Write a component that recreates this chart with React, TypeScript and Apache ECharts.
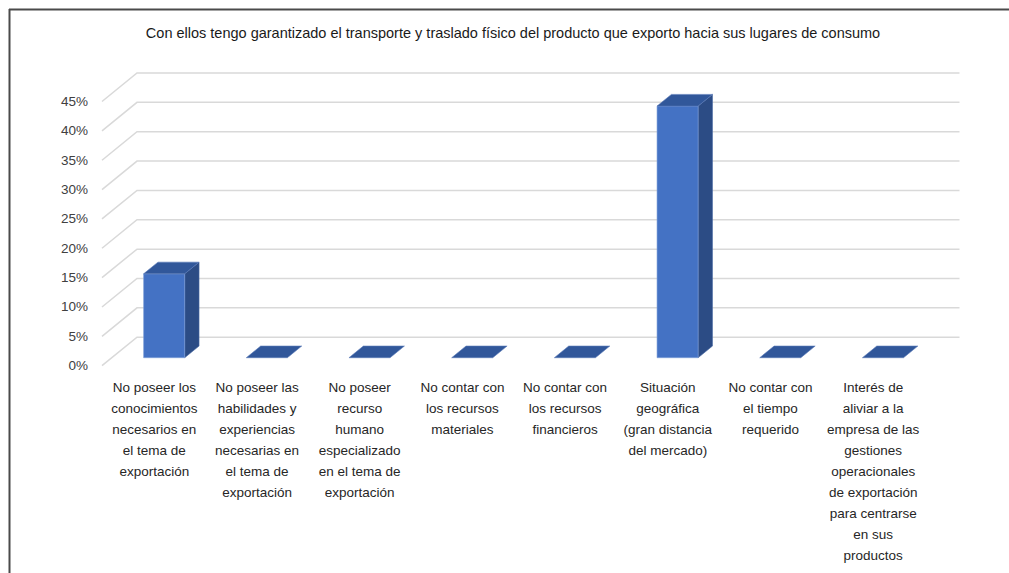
import React, { useEffect, useRef } from "react";
import * as echarts from "echarts";

const titleText =
  "Con ellos tengo garantizado el transporte y traslado físico del producto que exporto hacia sus lugares de consumo";

const categories = [
  "No poseer los\nconocimientos\nnecesarios en\nel tema de\nexportación",
  "No poseer las\nhabilidades y\nexperiencias\nnecesarias en\nel tema de\nexportación",
  "No poseer\nrecurso\nhumano\nespecializado\nen el tema de\nexportación",
  "No contar con\nlos recursos\nmateriales",
  "No contar con\nlos recursos\nfinancieros",
  "Situación\ngeográfica\n(gran distancia\ndel mercado)",
  "No contar con\nel tiempo\nrequerido",
  "Interés de\naliviar a la\nempresa de las\ngestiones\noperacionales\nde exportación\npara centrarse\nen sus\nproductos",
];

const values = [14.29, 0, 0, 0, 0, 42.86, 0, 0];

const yTicks = [0, 5, 10, 15, 20, 25, 30, 35, 40, 45];

// depth vector (floor front -> back wall), in pixels
const DEPTH_X = 35;
const DEPTH_Y = -28.5;
const BAR_FRONT = 0.28;
const BAR_BACK = 0.69;

const FONT = "'Liberation Sans', Arial, sans-serif";

export default function App() {
  const ref = useRef<HTMLDivElement>(null);

  useEffect(() => {
    if (!ref.current) return;
    const chart = echarts.init(ref.current, undefined, { renderer: "svg" });

    const option: any = {
      animation: false,
      backgroundColor: "#ffffff",
      grid: {
        left: 103,
        right: 84.5,
        top: 101.5,
        bottom: 573 - 365.7,
        containLabel: false,
      },
      xAxis: {
        type: "category",
        data: categories,
        axisLine: { show: false },
        axisTick: { show: false },
        splitLine: { show: false },
        axisLabel: {
          interval: 0,
          margin: 11,
          color: "#262626",
          fontSize: 13.5,
          lineHeight: 21,
          fontFamily: FONT,
        },
      },
      yAxis: {
        type: "value",
        min: 0,
        max: 45,
        interval: 5,
        axisLine: { show: false },
        axisTick: { show: false },
        splitLine: { show: false },
        axisLabel: {
          formatter: "{value}%",
          margin: 15,
          color: "#404040",
          fontSize: 13.5,
          fontFamily: FONT,
        },
      },
      graphic: [
        {
          type: "text",
          x: 513,
          y: 33,
          style: {
            text: titleText,
            fill: "#1a1a1a",
            fontSize: 14.5,
            fontFamily: FONT,
            align: "center",
            verticalAlign: "middle",
          },
        },
        {
          type: "line",
          shape: { x1: 9, y1: 9.5, x2: 1009, y2: 9.5 },
          style: { stroke: "#4a4a4a", lineWidth: 2 },
        },
        {
          type: "line",
          shape: { x1: 9.5, y1: 9, x2: 9.5, y2: 573 },
          style: { stroke: "#4a4a4a", lineWidth: 2 },
        },
      ],
      series: [
        {
          type: "custom",
          z: 1,
          silent: true,
          data: yTicks.map((t) => [0, t]),
          encode: { x: 0, y: 1 },
          renderItem: (params: any, api: any) => {
            const cs = params.coordSys;
            const p = api.coord([0, api.value(1)]);
            const y = p[1];
            const x0 = cs.x - 1;
            return {
              type: "polyline",
              shape: {
                points: [
                  [x0, y],
                  [x0 + DEPTH_X, y + DEPTH_Y],
                  [cs.x + cs.width + DEPTH_X, y + DEPTH_Y],
                ],
              },
              style: { stroke: "#d9d9d9", lineWidth: 1.5, fill: "none" },
            };
          },
        },
        {
          type: "custom",
          z: 2,
          data: values.map((v, i) => [i, v]),
          encode: { x: 0, y: 1 },
          renderItem: (params: any, api: any) => {
            const i = api.value(0);
            const v = api.value(1);
            const top = api.coord([i, v]);
            const base = api.coord([i, 0]);
            const w = api.size([1, 0])[0] * 0.4;
            const fx = BAR_FRONT * DEPTH_X;
            const fy = BAR_FRONT * DEPTH_Y;
            const dx = (BAR_BACK - BAR_FRONT) * DEPTH_X;
            const dy = (BAR_BACK - BAR_FRONT) * DEPTH_Y;
            const xl = top[0] - w / 2 + fx;
            const xr = top[0] + w / 2 + fx;
            const yt = top[1] + fy;
            const yb = base[1] + fy;
            const children: any[] = [];
            if (yb - yt > 0.5) {
              children.push({
                type: "polygon",
                shape: {
                  points: [
                    [xr, yt],
                    [xr + dx, yt + dy],
                    [xr + dx, yb + dy],
                    [xr, yb],
                  ],
                },
                style: { fill: "#2c4c85", stroke: "#4a6aa5", lineWidth: 0.6 },
              });
              children.push({
                type: "rect",
                shape: { x: xl, y: yt, width: w, height: yb - yt },
                style: { fill: "#4472c4", stroke: "#7f9fd8", lineWidth: 0.6 },
              });
            }
            children.push({
              type: "polygon",
              shape: {
                points: [
                  [xl, yt],
                  [xr, yt],
                  [xr + dx, yt + dy],
                  [xl + dx, yt + dy],
                ],
              },
              style: { fill: "#31579a", stroke: "#5a7bb8", lineWidth: 0.6 },
            });
            return { type: "group", children };
          },
        },
      ],
    };

    chart.setOption(option);
    return () => chart.dispose();
  }, []);

  return (
    <div
      ref={ref}
      style={{ position: "fixed", left: 0, top: 0, width: 1009, height: 573 }}
    />
  );
}
